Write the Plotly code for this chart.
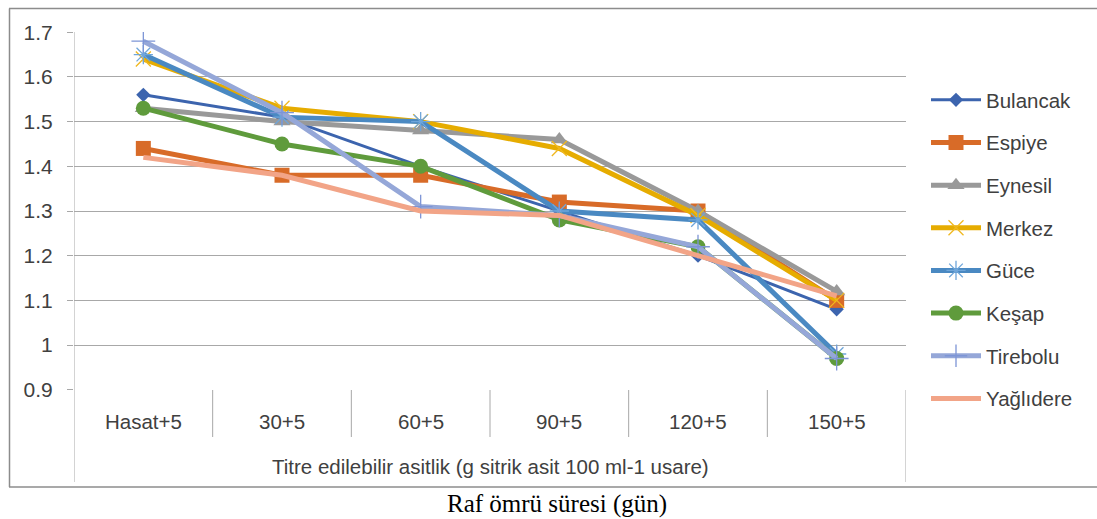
import plotly.graph_objects as go

categories = ["Hasat+5", "30+5", "60+5", "90+5", "120+5", "150+5"]
bulancak = [1.56, 1.51, 1.40, 1.30, 1.20, 1.08]
espiye = [1.44, 1.38, 1.38, 1.32, 1.30, 1.10]
eynesil = [1.53, 1.50, 1.48, 1.46, 1.30, 1.12]
merkez = [1.64, 1.53, 1.50, 1.44, 1.29, 1.10]
guce = [1.65, 1.51, 1.50, 1.30, 1.28, 0.98]
kesap = [1.53, 1.45, 1.40, 1.28, 1.22, 0.97]
tirebolu = [1.68, 1.52, 1.31, 1.29, 1.22, 0.97]
yaglidere = [1.42, 1.38, 1.30, 1.29, 1.20, 1.11]
ytick_vals = [0.9, 1.0, 1.1, 1.2, 1.3, 1.4, 1.5, 1.6, 1.7]
ytick_text = ["0.9", "1", "1.1", "1.2", "1.3", "1.4", "1.5", "1.6", "1.7"]
inner_title = "Titre edilebilir asitlik (g sitrik asit 100 ml-1 usare)"
outer_title = "Raf ömrü süresi (gün)"

series = [
    ("Bulancak", bulancak, "#3C64AE", 3, dict(symbol="diamond", size=11, color="#3C64AE")),
    ("Espiye", espiye, "#D86B28", 5, dict(symbol="square", size=15, color="#D86B28")),
    ("Eynesil", eynesil, "#999999", 5, dict(symbol="triangle-up", size=15, color="#999999")),
    ("Merkez", merkez, "#E6AC00", 5, dict(symbol="x-thin", size=15, color="#E6AC00",
                                            line=dict(width=1.3, color="#F0B820"))),
    ("Güce", guce, "#4A89C2", 5, dict(symbol="asterisk", size=16, color="#4A89C2",
                                        line=dict(width=1.3, color="#6FA6DA"))),
    ("Keşap", kesap, "#5F9B3C", 5, dict(symbol="circle", size=15, color="#5F9B3C")),
    ("Tirebolu", tirebolu, "#95A7D8", 5, dict(symbol="cross-thin", size=17, color="#95A7D8",
                                               line=dict(width=1.3, color="#7D95D6"))),
    ("Yağlıdere", yaglidere, "#F2A487", 5, None),
]

fig = go.Figure()
xs = list(range(len(categories)))
for i, (name, vals, col, w, mk) in enumerate(series):
    fig.add_trace(go.Scatter(
        x=xs, y=vals, name=name,
        mode="lines+markers" if mk else "lines",
        line=dict(color=col, width=w),
        marker=mk if mk else None,
        legendgroup=name,
    ))

L, R, T, B = 74, 906, 32, 390
W, H = 1097, 519
pw, ph = R - L, B - T

def px(x):
    return (x - L) / pw

def py(y):
    return (B - y) / ph

shapes = []
grid_col = "#A8A8A8"
# category separators
for k in range(1, len(categories)):
    shapes.append(dict(type="line", xref="x", yref="paper", x0=k - 0.5, x1=k - 0.5,
                       y0=0, y1=py(437), line=dict(color=grid_col, width=1)))
# outer separators
for xv in (-0.5, len(categories) - 0.5):
    shapes.append(dict(type="line", xref="x", yref="paper", x0=xv, x1=xv,
                       y0=(1.0 if xv < 0 else 0), y1=py(482), line=dict(color=grid_col, width=1)))
# chart border
bc = "#8C8C8C"
shapes.append(dict(type="line", xref="paper", yref="paper", x0=px(9), x1=px(1100),
                   y0=py(8.5), y1=py(8.5), line=dict(color=bc, width=1.5)))
shapes.append(dict(type="line", xref="paper", yref="paper", x0=px(1100), x1=px(9),
                   y0=py(487), y1=py(487), line=dict(color=bc, width=1.5)))
shapes.append(dict(type="line", xref="paper", yref="paper", x0=px(9.5), x1=px(9.5),
                   y0=py(8.5), y1=py(487), line=dict(color=bc, width=1.5)))

annotations = []
for i, c in enumerate(categories):
    annotations.append(dict(x=i, y=py(422), xref="x", yref="paper", text=c, showarrow=False,
                            xanchor="center", yanchor="middle",
                            font=dict(family="Liberation Sans, Arial", size=20.5, color="#404040")))
annotations.append(dict(x=0.5, y=py(467), xref="paper", yref="paper", text=inner_title,
                        showarrow=False, xanchor="center", yanchor="middle",
                        font=dict(family="Liberation Sans, Arial", size=20.5, color="#404040")))
annotations.append(dict(x=px(557), y=py(504), xref="paper", yref="paper", text=outer_title,
                        showarrow=False, xanchor="center", yanchor="middle",
                        font=dict(family="Liberation Serif, Times New Roman", size=25, color="#000000")))

fig.update_layout(
    width=W, height=H,
    margin=dict(l=L, r=W - R, t=T, b=H - B, pad=0),
    paper_bgcolor="white", plot_bgcolor="white",
    font=dict(family="Liberation Sans, Arial", size=20, color="#404040"),
    showlegend=True,
    legend=dict(x=px(926), y=py(80), xanchor="left", yanchor="top",
                font=dict(size=20.5, color="#404040"), tracegroupgap=13,
                itemwidth=50, bgcolor="rgba(0,0,0,0)"),
    xaxis=dict(range=[-0.5, len(categories) - 0.5], showgrid=False, zeroline=False,
               showticklabels=False, showline=False, ticks=""),
    yaxis=dict(range=[0.8995, 1.7005], tickvals=ytick_vals, ticktext=ytick_text,
               showgrid=True, gridcolor=grid_col, gridwidth=1, zeroline=False,
               ticks="outside", ticklen=6, tickcolor=grid_col, showline=False,
               tickfont=dict(size=21, color="#404040"), ticklabelstandoff=10),
    shapes=shapes, annotations=annotations,
)
fig.write_html("out.html")
